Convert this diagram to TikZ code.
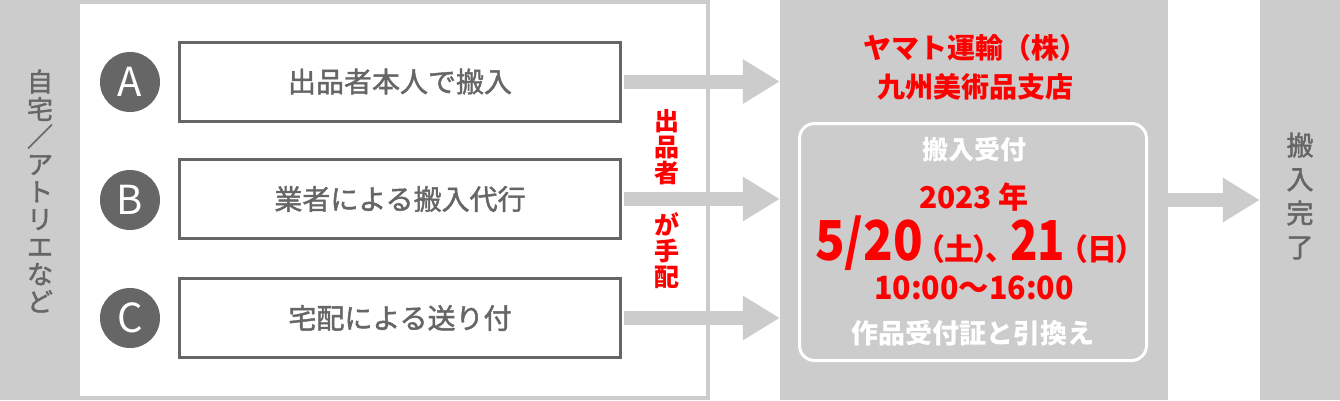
\documentclass[tikz,border=0pt]{standalone}
\usepackage{fontspec}
\setmainfont{Noto Sans CJK JP}
\newfontfamily\pfont[RawFeature=+palt]{Noto Sans CJK JP}
\usetikzlibrary{arrows.meta}
\definecolor{lg}{HTML}{CCCCCC}
\definecolor{dg}{HTML}{666666}
\definecolor{rd}{HTML}{FF0000}
\newcommand{\heavier}{\special{pdf:literal direct 2 Tr 0.45 w}}
\tikzset{
  circ/.style={circle,fill=dg,text=white,minimum size=60pt,inner sep=0pt,font=\fontsize{40}{40}\selectfont},
  optbox/.style={draw=dg,line width=3pt,fill=white,minimum width=441pt,minimum height=79pt,inner sep=0pt,text=dg,font=\fontsize{28}{30}\selectfont},
  flow/.style={draw=lg,line width=14pt,-{Triangle[length=37pt,width=42pt]}},
  vtext/.style={align=center,inner sep=0pt},
  redb/.style={text=rd,font=\bfseries\fontsize{28}{32}\selectfont,inner sep=0pt},
  whb/.style={text=white,font=\bfseries\fontsize{26}{30}\selectfont,inner sep=0pt},
  bignum/.style={text=rd,font=\bfseries\fontsize{55}{60}\selectfont,inner sep=0pt,anchor=base},
  paren/.style={text=rd,font=\pfont\bfseries\fontsize{30}{34}\selectfont,inner sep=0pt,anchor=base}
}
\begin{document}
\begin{tikzpicture}[x=1pt,y=-1pt]
\useasboundingbox (0,0) rectangle (1340,400);
\fill[white] (0,0) rectangle (1340,400);
% left region
\node[fill=lg,minimum width=710pt,minimum height=400pt,inner sep=0pt] (left) at (355,200) {};
\node[fill=white,minimum width=626pt,minimum height=392pt,inner sep=0pt] (panel) at (393,200) {};
\node[vtext,text=dg,font=\fontsize{26}{27.5}\selectfont] (src) at (40,191) {\heavier 自\\\heavier 宅\\\heavier ／\\\heavier ア\\\heavier ト\\\heavier リ\\\heavier エ\\\heavier な\\\heavier ど\special{pdf:literal direct 0 Tr}};
% central column
\node[fill=lg,minimum width=388pt,minimum height=400pt,inner sep=0pt] (col) at (974,200) {};
% right column
\node[fill=lg,minimum width=80pt,minimum height=400pt,inner sep=0pt] (fin) at (1300,200) {};
\node[vtext,text=dg,font=\fontsize{27}{34}\selectfont] (fintxt) at (1300,196) {\heavier 搬\\\heavier 入\\\heavier 完\\\heavier 了\special{pdf:literal direct 0 Tr}};
% option boxes
\node[optbox] (ba) at (400,81.5) {\heavier 出品者本人で搬入\special{pdf:literal direct 0 Tr}};
\node[optbox] (bb) at (400,199) {\heavier 業者による搬入代行\special{pdf:literal direct 0 Tr}};
\node[optbox] (bc) at (400,318) {\heavier 宅配による送り付\special{pdf:literal direct 0 Tr}};
\node[circ] (ca) at (130,82) {A};
\node[circ] (cb) at (130,200) {B};
\node[circ] (cc) at (130,318) {C};
% arrows
\draw[flow] ([xshift=1.5pt]ba.east) -- (ba.east -| col.west);
\draw[flow] ([xshift=1.5pt]bb.east) -- (bb.east -| col.west);
\draw[flow] ([xshift=1.5pt]bc.east) -- (bc.east -| col.west);
\draw[flow] (col.east |- fin.west) -- (fin.west);
% red vertical note
\node[vtext,text=rd,font=\bfseries\fontsize{25}{26}\selectfont] (hai) at (667,199) {出\\品\\者\\[26pt]が\\手\\配};
% central contents
\node[redb] (t1) at (975,48) {ヤマト運輸（株）};
\node[redb] (t2) at (975,87) {九州美術品支店};
\node[draw=white,line width=3pt,rounded corners=15pt,minimum width=347pt,minimum height=237pt,inner sep=0pt] (rcpt) at (973,242) {};
\node[whb] (r1) at (974,150) {搬入受付};
\node[text=rd,font=\bfseries\fontsize{30}{34}\selectfont,inner sep=0pt] (r2) at (974,197) {2023 年};
\node[bignum] (d1) at (869,260) {\resizebox{108pt}{\height}{5/20}};
\node[paren] (p1) at (959,260) {（土）};
\node[paren,anchor=base west] (c1) at (985,260) {、};
\node[bignum] (d2) at (1037.5,260) {\resizebox{55pt}{\height}{21}};
\node[paren] (p2) at (1102,260) {（日）};
\node[text=rd,font=\bfseries\fontsize{32}{36}\selectfont,inner sep=0pt] (r4) at (974,288) {\scalebox{0.95}[1]{10:00～16:00}};
\node[whb,font=\bfseries\fontsize{27}{30}\selectfont] (r5) at (973,333) {作品受付証と引換え};
\end{tikzpicture}
\end{document}
